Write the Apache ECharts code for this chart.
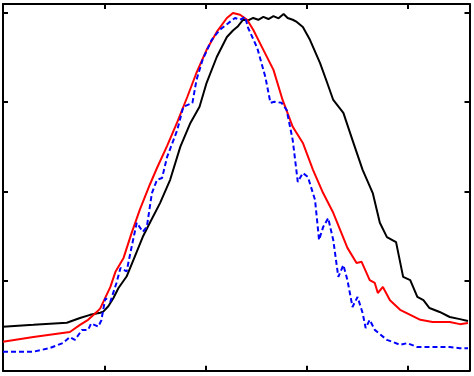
<!DOCTYPE html>
<html>
<head>
<meta charset="utf-8">
<script src="https://cdn.jsdelivr.net/npm/echarts@6/dist/echarts.min.js"></script>
<style>
  html, body { margin: 0; padding: 0; background: #fff; }
  #chart { width: 474px; height: 376px; }
</style>
</head>
<body>
<div id="chart"></div>
<script>
// sample positions and values
var blackX = [0, 30, 63, 76, 86, 96, 99, 104, 109, 114, 122, 130, 138, 145, 155, 165, 175, 185, 194, 201, 211, 221, 227, 232, 237, 242, 247, 252, 257, 262, 267, 272, 277, 281, 286, 290, 296, 303, 313, 320, 326, 336, 345, 355, 365, 372, 379, 388, 395, 402, 409, 415, 421, 431, 441, 451, 459];
var blackY = [0.123, 0.128, 0.134, 0.147, 0.156, 0.162, 0.165, 0.180, 0.203, 0.231, 0.263, 0.318, 0.374, 0.413, 0.468, 0.533, 0.625, 0.692, 0.737, 0.804, 0.876, 0.932, 0.950, 0.962, 0.980, 0.978, 0.985, 0.980, 0.988, 0.982, 0.990, 0.984, 0.996, 0.985, 0.980, 0.974, 0.960, 0.924, 0.859, 0.804, 0.756, 0.720, 0.644, 0.561, 0.496, 0.413, 0.373, 0.359, 0.262, 0.253, 0.206, 0.197, 0.175, 0.164, 0.150, 0.144, 0.139];

var redX = [0, 30, 66, 76, 84, 93, 96, 106, 111, 119, 127, 135, 145, 152, 162, 172, 182, 191, 201, 211, 221, 227, 234, 241, 247, 257, 267, 276, 286, 296, 306, 316, 326, 340, 349, 354, 362, 367, 370, 375, 382, 392, 402, 412, 424, 441, 451, 459];
var redY = [0.081, 0.094, 0.108, 0.128, 0.142, 0.165, 0.174, 0.234, 0.276, 0.315, 0.385, 0.449, 0.520, 0.566, 0.628, 0.694, 0.765, 0.832, 0.896, 0.946, 0.985, 0.999, 0.994, 0.980, 0.952, 0.896, 0.840, 0.756, 0.681, 0.636, 0.561, 0.496, 0.441, 0.343, 0.301, 0.304, 0.253, 0.245, 0.217, 0.234, 0.197, 0.170, 0.156, 0.142, 0.136, 0.136, 0.130, 0.133];

var blueX = [0, 30, 46, 59, 66, 71, 78, 84, 87, 94, 97, 101, 106, 112, 116, 122, 127, 132, 138, 142, 147, 152, 157, 162, 172, 178, 187, 191, 197, 206, 214, 224, 229, 234, 239, 242, 251, 259, 264, 268, 275, 280, 286, 291, 296, 301, 308, 312, 316, 321, 326, 331, 336, 340, 345, 350, 355, 358, 362, 367, 379, 385, 392, 399, 409, 424, 441, 451, 459];
var blueY = [0.053, 0.053, 0.063, 0.077, 0.094, 0.086, 0.114, 0.114, 0.132, 0.123, 0.140, 0.202, 0.193, 0.245, 0.287, 0.277, 0.346, 0.413, 0.388, 0.402, 0.496, 0.533, 0.538, 0.597, 0.672, 0.737, 0.748, 0.812, 0.868, 0.924, 0.952, 0.974, 0.985, 0.980, 0.988, 0.957, 0.901, 0.820, 0.748, 0.751, 0.748, 0.728, 0.644, 0.527, 0.552, 0.541, 0.477, 0.365, 0.401, 0.426, 0.365, 0.262, 0.295, 0.253, 0.178, 0.206, 0.161, 0.119, 0.142, 0.114, 0.086, 0.080, 0.072, 0.077, 0.066, 0.066, 0.066, 0.063, 0.063];

var xMin = 0, xMax = 460.5, xStep = 100;
var yMin = 0, yMax = 1.024, yStep = 0.25;

function pairs(xs, ys) {
  return xs.map(function (x, i) { return [x, ys[i]]; });
}

var chart = echarts.init(document.getElementById('chart'), null, { renderer: 'canvas' });

var axisCommon = {
  type: 'value',
  axisLine: { show: true, onZero: false, lineStyle: { color: '#000', width: 2 } },
  axisTick: { show: true, inside: true, length: 5, lineStyle: { color: '#000', width: 2 } },
  axisLabel: { show: false },
  splitLine: { show: false }
};

var option = {
  animation: false,
  backgroundColor: '#fff',
  grid: { left: 3, right: 4.5, top: 4, bottom: 5.3, containLabel: false },
  xAxis: [
    Object.assign({}, axisCommon, { position: 'bottom', min: xMin, max: xMax, interval: xStep }),
    Object.assign({}, axisCommon, { position: 'top', min: xMin, max: xMax, interval: xStep })
  ],
  yAxis: [
    Object.assign({}, axisCommon, { position: 'left', min: yMin, max: yMax, interval: yStep }),
    Object.assign({}, axisCommon, { position: 'right', min: yMin, max: yMax, interval: yStep })
  ],
  series: [
    {
      name: 'black', type: 'line', showSymbol: false, z: 3,
      lineStyle: { color: '#000', width: 2 },
      data: pairs(blackX, blackY)
    },
    {
      name: 'red', type: 'line', showSymbol: false, z: 4,
      lineStyle: { color: '#ff0000', width: 2 },
      data: pairs(redX, redY)
    },
    {
      name: 'blue', type: 'line', showSymbol: false, z: 5,
      lineStyle: { color: '#0000ff', width: 2, type: [5, 3] },
      data: pairs(blueX, blueY)
    }
  ]
};

chart.setOption(option);
</script>
</body>
</html>
